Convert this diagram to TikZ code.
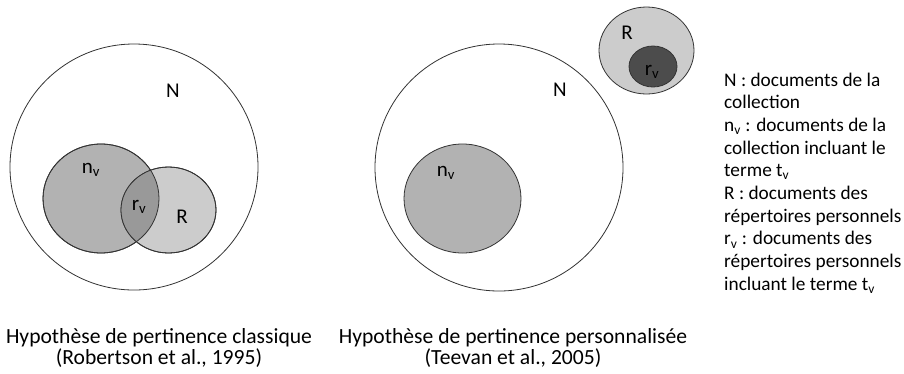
\documentclass[tikz,border=0pt]{standalone}
\usepackage{fontspec}
\setmainfont{Carlito}
\begin{document}
\begin{tikzpicture}[x=1pt,y=-1pt,
  setline/.style={draw=black!80,line width=0.8pt},
  lbl/.style={font=\fontsize{21}{24}\selectfont,inner sep=0pt},
  legline/.style={font=\fontsize{19.3}{22}\selectfont,inner sep=0pt,anchor=base west},
  captext/.style={font=\fontsize{21.6}{24}\selectfont,inner sep=0pt,anchor=base}]
\useasboundingbox (0,0) rectangle (904,373);
% ---- left diagram ----
\draw[setline,fill=white] (134,167) ellipse [x radius=124,y radius=123];
\draw[setline,fill=black!30] (101,198.5) ellipse [x radius=58,y radius=54.5];
\draw[setline,fill=black!20] (168.5,210) ellipse [x radius=47.5,y radius=43];
\begin{scope}
  \clip (101,198.5) ellipse [x radius=58,y radius=54.5];
  \fill[black!40] (168.5,210) ellipse [x radius=47.5,y radius=43];
\end{scope}
\draw[setline] (101,198.5) ellipse [x radius=58,y radius=54.5];
\draw[setline] (168.5,210) ellipse [x radius=47.5,y radius=43];
\node[lbl] (N1) at (173,91) {N};
\node[lbl] (nv1) at (91,170) {n\textsubscript{v}};
\node[lbl] (rv1) at (139,207) {r\textsubscript{v}};
\node[lbl] (R1) at (182,217) {R};
% ---- right diagram ----
\draw[setline,fill=white] (499,167.5) ellipse [x radius=124,y radius=123.5];
\draw[setline,fill=black!30] (462.5,198.5) ellipse [x radius=58.5,y radius=54.5];
\draw[setline,fill=black!20] (646.5,50.5) ellipse [x radius=47.5,y radius=43.5];
\draw[setline,fill=black!70] (653,66.5) ellipse [x radius=24,y radius=20.5];
\node[lbl] (N2) at (560,90) {N};
\node[lbl] (nv2) at (446,173) {n\textsubscript{v}};
\node[lbl] (R2) at (627,33) {R};
\node[lbl] (rv2) at (652,72) {r\textsubscript{v}};
% ---- legend ----
\node[legline] (l1) at (724,86.0) {N : documents de la};
\node[legline] (l2) at (724,108.7) {collection};
\node[legline] (l3) at (724,131.4) {n\textsubscript{v} : documents de la};
\node[legline] (l4) at (724,154.1) {collection incluant le};
\node[legline] (l5) at (724,176.8) {terme t\textsubscript{v}};
\node[legline] (l6) at (724,199.5) {R : documents des};
\node[legline] (l7) at (724,222.2) {répertoires personnels};
\node[legline] (l8) at (724,244.9) {r\textsubscript{v} : documents des};
\node[legline] (l9) at (724,267.6) {répertoires personnels};
\node[legline] (l10) at (724,290.3) {incluant le terme t\textsubscript{v}};
% ---- captions ----
\node[captext] (c1a) at (159,343) {Hypothèse de pertinence classique};
\node[captext] (c1b) at (159,364.5) {(Robertson et al., 1995)};
\node[captext] (c2a) at (513,343) {Hypothèse de pertinence personnalisée};
\node[captext] (c2b) at (513,364.5) {(Teevan et al., 2005)};
\end{tikzpicture}
\end{document}
